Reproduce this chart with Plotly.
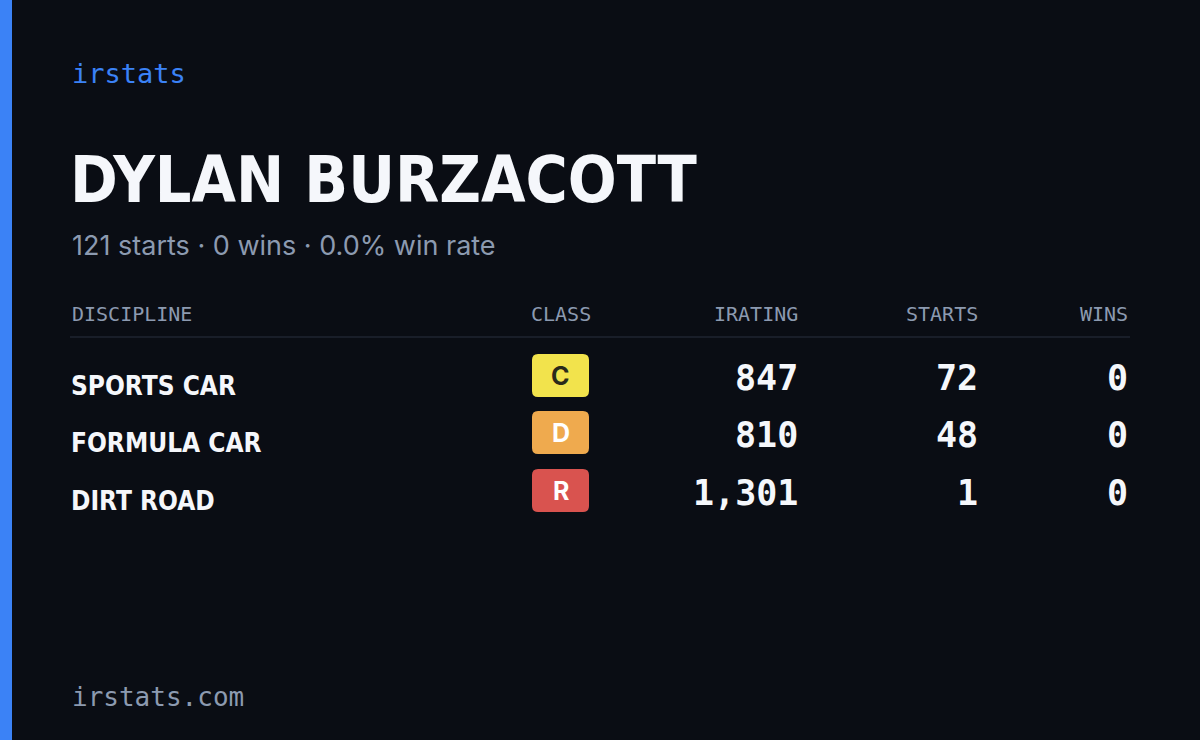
import plotly.graph_objects as go

disciplines = ["SPORTS CAR", "FORMULA CAR", "DIRT ROAD"]
classes = ["C", "D", "R"]
iratings = [847, 810, 1301]
starts = [72, 48, 1]
wins = [0, 0, 0]
headers = ["DISCIPLINE", "CLASS", "IRATING", "STARTS", "WINS"]
class_colors = {"C": "#f2e34c", "D": "#efaa4e", "R": "#d9534f"}
class_text = {"C": "#2a2a1a", "D": "#ffffff", "R": "#ffffff"}

BG = "#0a0d14"
MUTED = "#8c9ab0"
WHITE = "#f5f7fb"
COND = "Liberation Sans Narrow, DejaVu Sans Condensed, Arial Narrow, sans-serif"
MONO = "DejaVu Sans Mono, Liberation Mono, monospace"
SANS = "Inter, Noto Sans, sans-serif"

fig = go.Figure()
shapes = []
ann = []

shapes.append(dict(type="rect", x0=0, x1=12, y0=0, y1=740, fillcolor="#3b82f6", line_width=0))
ann.append(dict(x=70, y=73, text="irstats", xanchor="left", yanchor="middle",
                font=dict(family=MONO, size=27, color="#3b82f6")))
ann.append(dict(x=68, y=180, text="<b>DYLAN BURZACOTT</b>", xanchor="left", yanchor="middle",
                font=dict(family=COND, size=64, color=WHITE)))
ann.append(dict(x=70, y=245, text="121 starts · 0 wins · 0.0% win rate", xanchor="left", yanchor="middle",
                font=dict(family=SANS, size=27, color=MUTED)))

hx = [70, 593, 800, 980, 1130]
hanch = ["left", "right", "right", "right", "right"]
for h, x, a in zip(headers, hx, hanch):
    ann.append(dict(x=x, y=314, text=h, xanchor=a, yanchor="middle",
                    font=dict(family=MONO, size=20, color=MUTED)))
shapes.append(dict(type="line", x0=70, x1=1130, y0=337, y1=337, line=dict(color="#1f2531", width=1.5)))

row_y = [380, 437, 495]
def rrect(x0, y0, x1, y1, r):
    return (f"M{x0+r},{y0} L{x1-r},{y0} Q{x1},{y0} {x1},{y0+r} L{x1},{y1-r} Q{x1},{y1} {x1-r},{y1} "
            f"L{x0+r},{y1} Q{x0},{y1} {x0},{y1-r} L{x0},{y0+r} Q{x0},{y0} {x0+r},{y0} Z")
for d, c, ir, s, w, y in zip(disciplines, classes, iratings, starts, wins, row_y):
    ann.append(dict(x=69, y=y + 6, text=f"<b>{d}</b>", xanchor="left", yanchor="middle",
                    font=dict(family=COND, size=26, color=WHITE)))
    shapes.append(dict(type="path", path=rrect(532, y - 26, 589, y + 17, 6),
                       fillcolor=class_colors[c], line_width=0))
    ann.append(dict(x=560.5, y=y - 4, text=f"<b>{c}</b>", xanchor="center", yanchor="middle",
                    font=dict(family=SANS, size=25, color=class_text[c])))
    for val, x in [(f"{ir:,}", 800), (str(s), 980), (str(w), 1130)]:
        ann.append(dict(x=x, y=y - 2, text=f"<b>{val}</b>", xanchor="right", yanchor="middle",
                        font=dict(family=MONO, size=35, color=WHITE)))

ann.append(dict(x=70, y=697, text="irstats.com", xanchor="left", yanchor="middle",
                font=dict(family=MONO, size=26, color=MUTED)))

for a in ann:
    a.update(xref="x", yref="y", showarrow=False)

fig.update_layout(width=1200, height=740, margin=dict(l=0, r=0, t=0, b=0),
                  paper_bgcolor=BG, plot_bgcolor=BG, shapes=shapes, annotations=ann,
                  xaxis=dict(range=[0, 1200], visible=False, fixedrange=True),
                  yaxis=dict(range=[740, 0], visible=False, fixedrange=True),
                  showlegend=False)
fig.write_html("out.html", config={"displayModeBar": False},
               post_script="document.body.style.margin='0';document.body.style.overflow='hidden';document.body.style.background='#0a0d14';")
